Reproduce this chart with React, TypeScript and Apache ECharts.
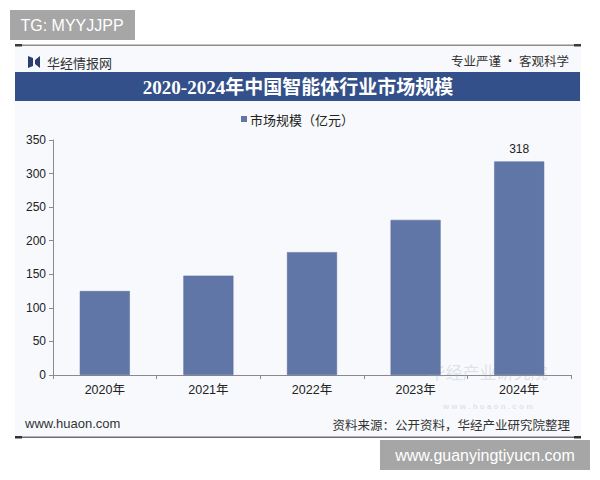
import React, { useEffect, useRef } from "react";
import * as echarts from "echarts";

const categories = ["2020年", "2021年", "2022年", "2023年", "2024年"];
const marketSize = [125, 148, 183, 231, 318];
const yTicks = [0, 50, 100, 150, 200, 250, 300, 350];

const titleText = "2020-2024年中国智能体行业市场规模";
const legendName = "市场规模（亿元）";
const brandText = "华经情报网";
const sloganText = "专业严谨 • 客观科学";
const siteText = "www.huaon.com";
const sourceText = "资料来源：公开资料，华经产业研究院整理";
const tgText = "TG: MYYJJPP";
const footerBoxText = "www.guanyingtiyucn.com";
const watermarkName = "华经产业研究院";
const watermarkSite = "w w w . h u a o n . c o m";

const SANS = "'Liberation Sans', 'Noto Sans CJK SC', sans-serif";
const CJK = "'Noto Sans CJK SC', 'Liberation Sans', sans-serif";

export default function App() {
  const ref = useRef<HTMLDivElement>(null);
  useEffect(() => {
    if (!ref.current) return;
    const chart = echarts.init(ref.current, undefined, { renderer: "svg" });
    const lastIdx = marketSize.length - 1;
    chart.setOption({
      animation: false,
      backgroundColor: "#ffffff",
      grid: { left: 53, right: 29, top: 140, bottom: 105, containLabel: false },
      xAxis: {
        type: "category",
        data: categories,
        boundaryGap: true,
        axisLine: { show: true, lineStyle: { color: "#8a8a8a", width: 1 } },
        axisTick: { show: true, alignWithLabel: false, length: 4, lineStyle: { color: "#8a8a8a" } },
        axisLabel: { color: "#222", fontSize: 12.5, fontFamily: SANS, margin: 9 },
        splitLine: { show: false },
      },
      yAxis: {
        type: "value",
        min: yTicks[0],
        max: yTicks[yTicks.length - 1],
        interval: 50,
        axisLine: { show: true, lineStyle: { color: "#8a8a8a", width: 1 } },
        axisTick: { show: true, length: 4, inside: false, lineStyle: { color: "#8a8a8a" } },
        axisLabel: { color: "#222", fontSize: 12, fontFamily: SANS, margin: 7 },
        splitLine: { show: false },
      },
      series: [
        {
          type: "bar",
          name: legendName,
          data: marketSize.map((v, i) => ({
            value: v,
            label: {
              show: i === lastIdx,
              position: "top",
              color: "#222",
              fontSize: 12,
              fontFamily: SANS,
              distance: 6,
            },
          })),
          barWidth: 50,
          itemStyle: { color: "#6076a6", borderColor: "#56699a", borderWidth: 0.5 },
          z: 5,
        },
      ],
      graphic: [
        { type: "rect", z: -10, silent: true, shape: { x: 15, y: 45, width: 566, height: 392 }, style: { fill: "#f7f9fc" } },
        { type: "rect", shape: { x: 10, y: 10, width: 125, height: 30 }, style: { fill: "#a6a6a6" } },
        { type: "text", x: 72, y: 25, style: { text: tgText, fill: "#ffffff", fontSize: 16, fontFamily: SANS, align: "center", verticalAlign: "middle" } },
        { type: "rect", shape: { x: 15, y: 44.5, width: 566, height: 1.5 }, style: { fill: "#8c8c8c" } },
        { type: "rect", shape: { x: 15, y: 44, width: 7, height: 2.5 }, style: { fill: "#3a3a3a" } },
        { type: "rect", shape: { x: 574, y: 44, width: 7, height: 2.5 }, style: { fill: "#3a3a3a" } },
        { type: "polygon", shape: { points: [[28, 56], [33, 58], [33, 66], [28, 68]] }, style: { fill: "#2a3d6d" } },
        { type: "polygon", shape: { points: [[40, 56], [35, 60], [35, 64], [40, 68]] }, style: { fill: "#2a3d6d" } },
        { type: "text", x: 47, y: 62, style: { text: brandText, fill: "#333", fontSize: 13, fontFamily: CJK, verticalAlign: "middle" } },
        { type: "text", x: 569, y: 60, style: { text: sloganText, fill: "#333", fontSize: 12.5, fontFamily: CJK, align: "right", verticalAlign: "middle" } },
        { type: "rect", shape: { x: 15, y: 72, width: 565, height: 29 }, style: { fill: "#34508a" } },
        { type: "text", x: 298, y: 87, style: { text: titleText, fill: "#ffffff", fontSize: 19, fontWeight: "bold", fontFamily: "'Liberation Serif', 'Noto Sans CJK SC', serif", align: "center", verticalAlign: "middle" } },
        { type: "rect", shape: { x: 241, y: 116, width: 6, height: 6 }, style: { fill: "#6076a6" } },
        { type: "text", x: 250, y: 119, style: { text: legendName, fill: "#222", fontSize: 13, fontFamily: CJK, verticalAlign: "middle" } },
        { type: "text", z: 1, x: 488, y: 371, style: { text: watermarkName, fill: "rgba(160,170,190,0.3)", fontSize: 17, fontFamily: CJK, align: "center", verticalAlign: "middle" } },
        { type: "text", z: 1, x: 488, y: 406, style: { text: watermarkSite, fill: "rgba(160,170,190,0.3)", fontSize: 8, fontWeight: "bold", fontFamily: SANS, align: "center", verticalAlign: "middle" } },
        { type: "text", x: 25, y: 423, style: { text: siteText, fill: "#333", fontSize: 13, fontFamily: SANS, verticalAlign: "middle" } },
        { type: "text", x: 570, y: 424, style: { text: sourceText, fill: "#333", fontSize: 12.5, fontFamily: CJK, align: "right", verticalAlign: "middle" } },
        { type: "rect", shape: { x: 15, y: 436.5, width: 566, height: 1.5 }, style: { fill: "#6e6e6e" } },
        { type: "rect", shape: { x: 15, y: 436, width: 7, height: 2.5 }, style: { fill: "#333" } },
        { type: "rect", shape: { x: 574, y: 436, width: 7, height: 2.5 }, style: { fill: "#333" } },
        { type: "rect", shape: { x: 380, y: 440, width: 210, height: 30 }, style: { fill: "#a6a6a6" } },
        { type: "text", x: 485, y: 455, style: { text: footerBoxText, fill: "#ffffff", fontSize: 16, fontFamily: SANS, align: "center", verticalAlign: "middle" } },
      ],
    });
    return () => chart.dispose();
  }, []);
  return (
    <div
      ref={ref}
      style={{ position: "fixed", left: 0, top: 0, width: 600, height: 480 }}
    />
  );
}
